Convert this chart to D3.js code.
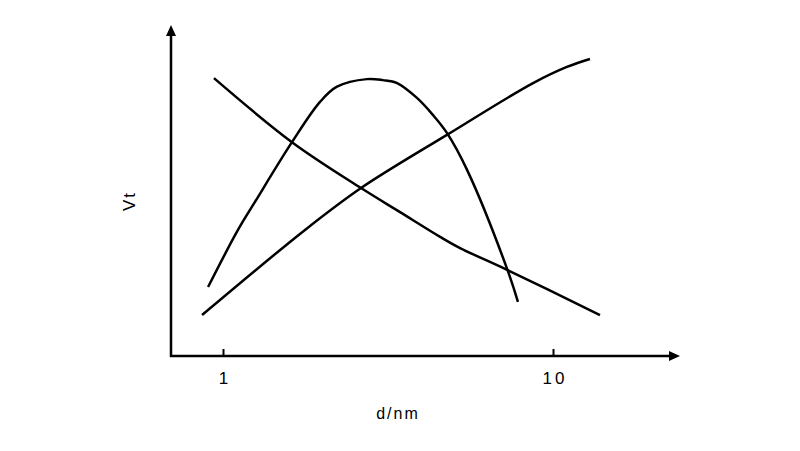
<!DOCTYPE html>
<html>
<head>
<meta charset="utf-8">
<script src="https://cdn.jsdelivr.net/npm/d3@7"></script>
<style>
  body { margin: 0; background: #fff; }
  svg text { font-family: "Liberation Sans", Arial, sans-serif; fill: #000; }
</style>
</head>
<body>
<div id="chart"></div>
<script>
// tick labels on the (log) d axis
const xTicks = [1, 10];

// falling curve
const downX = [0.939, 1.618, 2.62, 3.44, 4.55, 5.23, 7.26, 13.88];
const downY = [84.2, 64.8, 50.9, 43.6, 36.1, 32.7, 26.1, 12.4];

// rising curve
const riseX = [0.864, 1.772, 2.62, 4.77, 8.70, 11.02, 12.94];
const riseY = [12.4, 38.2, 50.9, 67.0, 82.7, 87.6, 90.0];

// peaked curve
const peakX = [0.901, 1.110, 1.250, 1.618, 1.968, 2.215, 2.73, 3.05, 3.37, 3.87, 4.33, 4.77, 5.49, 7.26, 7.83];
const peakY = [20.9, 38.2, 46.7, 64.8, 77.0, 81.6, 83.9, 83.6, 82.7, 78.2, 73.0, 67.6, 56.4, 26.4, 16.4];

const width = 800, height = 451;
const originX = 171, originY = 356;

const svg = d3.select('#chart').append('svg')
    .attr('width', width)
    .attr('height', height);

const x = d3.scaleLog().domain([1, 10]).range([223, 553]);
const y = d3.scaleLinear().domain([0, 100]).range([originY, 26]);

// axes with arrow heads
const axisG = svg.append('g').attr('stroke', '#000').attr('stroke-width', 2.5);
axisG.append('line')
    .attr('x1', originX).attr('y1', originY + 1)
    .attr('x2', originX).attr('y2', 34);
axisG.append('line')
    .attr('x1', originX - 1).attr('y1', originY)
    .attr('x2', 670).attr('y2', originY);

svg.append('path')
    .attr('d', `M${originX},25 L${originX - 5},36 L${originX + 5},36 Z`)
    .attr('fill', '#000');
svg.append('path')
    .attr('d', `M680,${originY} L669,${originY - 5} L669,${originY + 5} Z`)
    .attr('fill', '#000');

// ticks + labels
const xAxis = d3.axisBottom(x)
    .tickValues(xTicks)
    .tickFormat(d3.format('d'))
    .tickSizeInner(-7)
    .tickSizeOuter(0)
    .tickPadding(16);

const gx = svg.append('g')
    .attr('transform', `translate(0,${originY})`)
    .call(xAxis);
gx.select('.domain').remove();
gx.selectAll('.tick line').attr('stroke', '#000').attr('stroke-width', 2);
gx.selectAll('.tick text')
    .attr('font-size', 17)
    .attr('letter-spacing', 3)
    .attr('font-family', '"Liberation Sans", Arial, sans-serif')
    .attr('dx', 1.5);

// axis titles
svg.append('text')
    .attr('x', 398).attr('y', 419)
    .attr('text-anchor', 'middle')
    .attr('font-size', 16)
    .attr('letter-spacing', 2)
    .text('d/nm');

svg.append('text')
    .attr('transform', 'translate(135,201) rotate(-90)')
    .attr('text-anchor', 'middle')
    .attr('font-size', 17)
    .attr('letter-spacing', 2)
    .text('Vt');

// curves
const line = d3.line()
    .x(d => x(d[0]))
    .y(d => y(d[1]))
    .curve(d3.curveCatmullRom.alpha(0.5));

const curves = [
    d3.zip(downX, downY),
    d3.zip(riseX, riseY),
    d3.zip(peakX, peakY)
];

svg.selectAll('path.curve')
    .data(curves)
    .enter().append('path')
    .attr('class', 'curve')
    .attr('d', line)
    .attr('fill', 'none')
    .attr('stroke', '#000')
    .attr('stroke-width', 2.5);
</script>
</body>
</html>
